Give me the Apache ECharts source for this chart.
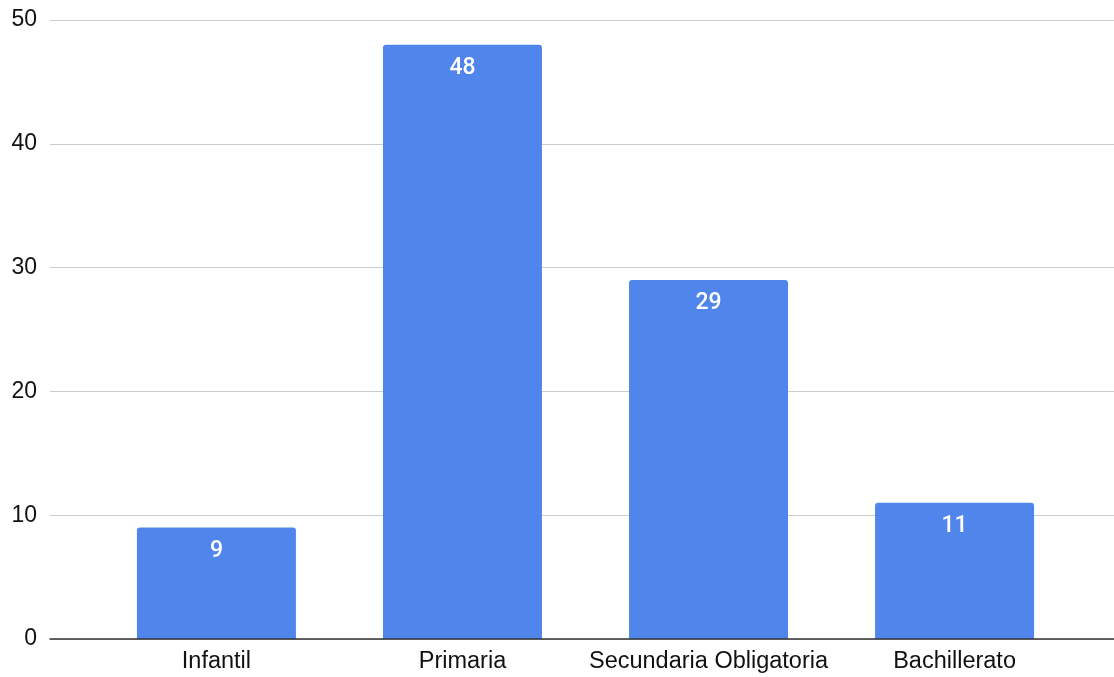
<!DOCTYPE html>
<html>
<head>
<meta charset="utf-8">
<script src="https://cdn.jsdelivr.net/npm/echarts@6/dist/echarts.min.js"></script>
<style>
    html, body { margin: 0; padding: 0; background: #fff; }
    #chart { width: 1114px; height: 677px; }
</style>
</head>
<body>
<div id="chart"></div>
<script>
// datos
var categorias = ['Infantil', 'Primaria', 'Secundaria Obligatoria', 'Bachillerato'];
var valores = [9, 48, 29, 11];
var ticksY = [0, 10, 20, 30, 40, 50];

var datosBarras = valores.map(function (v, i) {
    return [i, v];
});

var chart = echarts.init(document.getElementById('chart'));

var option = {
    animation: false,
    grid: {
        left: 50,
        right: 0,
        top: 20,
        bottom: 38
    },
    xAxis: {
        type: 'value',
        min: -0.6764,
        max: 3.648,
        z: 5,
        splitLine: { show: false },
        axisTick: { show: false },
        axisLine: {
            show: true,
            lineStyle: { color: '#333', width: 1.5 }
        },
        axisLabel: {
            customValues: [0, 1, 2, 3],
            formatter: function (v) {
                return categorias[Math.round(v)];
            },
            color: '#111',
            fontFamily: 'Liberation Sans',
            fontSize: 23.5,
            margin: 11
        }
    },
    yAxis: {
        type: 'value',
        min: ticksY[0],
        max: ticksY[ticksY.length - 1],
        interval: 10,
        axisLine: { show: false },
        axisTick: { show: false },
        splitLine: {
            lineStyle: { color: '#cccccc', width: 1.2 }
        },
        axisLabel: {
            color: '#111',
            fontFamily: 'Liberation Sans',
            fontSize: 23,
            margin: 13
        }
    },
    series: [
        {
            type: 'bar',
            data: datosBarras,
            barWidth: 159,
            itemStyle: {
                color: '#5086ec',
                borderRadius: [3, 3, 0, 0]
            },
            label: {
                show: true,
                position: 'insideTop',
                distance: 12,
                color: '#fff',
                fontFamily: 'Roboto',
                fontWeight: 500,
                fontSize: 23,
                formatter: function (p) {
                    return p.value[1];
                }
            }
        }
    ]
};

chart.setOption(option);
</script>
</body>
</html>
